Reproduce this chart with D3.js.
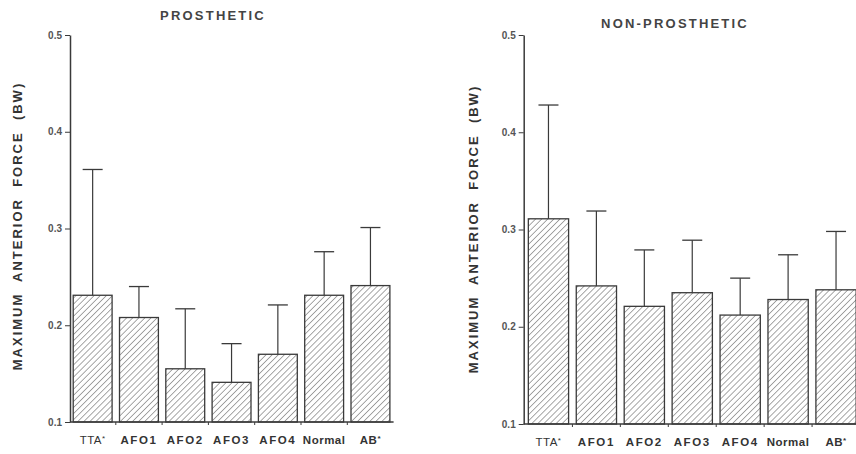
<!DOCTYPE html>
<html>
<head>
<meta charset="utf-8">
<script src="https://cdn.jsdelivr.net/npm/d3@7"></script>
<style>
  body { margin: 0; background: #fff; }
  svg { display: block; font-family: 'Liberation Sans', Arial, sans-serif; }
</style>
</head>
<body>
<svg id="chart" width="856" height="454"></svg>
<script>
var categories = ['TTA', 'AFO1', 'AFO2', 'AFO3', 'AFO4', 'Normal', 'AB']
var starred = [true, false, false, false, false, false, true]
var prostheticMean = [0.231, 0.208, 0.155, 0.141, 0.170, 0.231, 0.241]
var prostheticSD = [0.130, 0.032, 0.062, 0.040, 0.051, 0.045, 0.060]
var nonProstheticMean = [0.311, 0.242, 0.221, 0.235, 0.212, 0.228, 0.238]
var nonProstheticSD = [0.117, 0.077, 0.058, 0.054, 0.038, 0.046, 0.060]
var yTicks = [0.1, 0.2, 0.3, 0.4, 0.5]
var yLabel = 'MAXIMUM  ANTERIOR  FORCE  (BW)'

var svg = d3.select('#chart')
var ink = '#3a3a3a'

var defs = svg.append('defs')
defs.append('pattern')
    .attr('id', 'hatch')
    .attr('patternUnits', 'userSpaceOnUse')
    .attr('width', 4.3)
    .attr('height', 4.3)
    .attr('patternTransform', 'rotate(45)')
  .append('line')
    .attr('x1', 0).attr('y1', 0)
    .attr('x2', 0).attr('y2', 4.3)
    .attr('stroke', '#505050')
    .attr('stroke-width', 1)

function drawPanel (opts) {
  var data = categories.map(function (c, i) {
    return { name: c, star: starred[i], mean: opts.mean[i], sd: opts.sd[i] }
  })

  var x = d3.scaleBand()
      .domain(categories)
      .range(opts.xRange)
      .paddingInner(0.16)
      .paddingOuter(0.08)

  var y = d3.scaleLinear()
      .domain([0.1, 0.5])
      .range(opts.yRange)

  var g = svg.append('g')

  // error bars (behind bars)
  var err = g.append('g').attr('class', 'errors')
    .selectAll('g')
    .data(data)
    .enter().append('g')
  err.append('line')
      .attr('x1', function (d) { return x(d.name) + x.bandwidth() / 2 })
      .attr('x2', function (d) { return x(d.name) + x.bandwidth() / 2 })
      .attr('y1', function (d) { return y(d.mean) })
      .attr('y2', function (d) { return y(d.mean + d.sd) })
      .attr('stroke', ink)
      .attr('stroke-width', 1.2)
  err.append('line')
      .attr('x1', function (d) { return x(d.name) + x.bandwidth() / 2 - 10 })
      .attr('x2', function (d) { return x(d.name) + x.bandwidth() / 2 + 10 })
      .attr('y1', function (d) { return y(d.mean + d.sd) })
      .attr('y2', function (d) { return y(d.mean + d.sd) })
      .attr('stroke', ink)
      .attr('stroke-width', 1.3)

  g.append('g').attr('class', 'bars')
    .selectAll('rect')
    .data(data)
    .enter().append('rect')
      .attr('x', function (d) { return x(d.name) })
      .attr('width', x.bandwidth())
      .attr('y', function (d) { return y(d.mean) })
      .attr('height', function (d) { return y(0.1) - y(d.mean) })
      .attr('fill', 'url(#hatch)')
      .attr('stroke', ink)
      .attr('stroke-width', 1.3)

  // y axis
  var yAxis = g.append('g')
      .attr('transform', 'translate(' + opts.axisX + ',0)')
      .call(d3.axisLeft(y).tickValues(yTicks).tickFormat(d3.format('.1f')).tickSize(5).tickSizeOuter(0))
  yAxis.select('.domain').attr('stroke', ink).attr('stroke-width', 1.5)
  yAxis.selectAll('.tick line').attr('stroke', ink).attr('stroke-width', 1)
  yAxis.selectAll('.tick text')
      .attr('x', -8)
      .attr('fill', '#555')
      .style('font-size', '10px')
      .style('font-weight', 'bold')

  // x axis
  var base = y(0.1)
  g.append('line')
      .attr('x1', opts.axisX)
      .attr('x2', opts.xRange[1])
      .attr('y1', base)
      .attr('y2', base)
      .attr('stroke', ink)
      .attr('stroke-width', 1.5)
  var edges = categories.slice(1).map(function (c) { return x(c) - x.step() * x.paddingInner() / 2 })
  g.append('g').selectAll('line')
    .data(edges)
    .enter().append('line')
      .attr('x1', function (d) { return d })
      .attr('x2', function (d) { return d })
      .attr('y1', base)
      .attr('y2', base + 3)
      .attr('stroke', ink)
      .attr('stroke-width', 1)

  var labels = g.append('g').selectAll('text')
    .data(data)
    .enter().append('text')
      .attr('x', function (d) { return x(d.name) + x.bandwidth() / 2 })
      .attr('y', base + 22)
      .attr('text-anchor', 'middle')
      .attr('fill', '#333')
      .style('font-size', '11.5px')
      .style('font-weight', function (d) { return d.name === 'TTA' ? 'normal' : 'bold' })
      .style('letter-spacing', function (d) { return /AFO/.test(d.name) ? '1.6px' : '0.5px' })
  labels.append('tspan').text(function (d) { return d.name })
  labels.filter(function (d) { return d.star }).append('tspan')
      .attr('dy', -3)
      .style('font-size', '8px')
      .text('*')

  // title
  g.append('text')
      .attr('x', opts.titleX)
      .attr('y', opts.titleY)
      .attr('text-anchor', 'middle')
      .attr('fill', '#444')
      .style('font-size', '13px')
      .style('font-weight', 'bold')
      .style('letter-spacing', '2.2px')
      .text(opts.title)

  // y label
  g.append('text')
      .attr('transform', 'translate(' + opts.labelX + ',' + opts.labelY + ') rotate(-90)')
      .attr('text-anchor', 'middle')
      .attr('fill', '#333')
      .style('font-size', '13px')
      .style('font-weight', 'bold')
      .style('letter-spacing', '2px')
      .style('white-space', 'pre')
      .text(yLabel)
}

drawPanel({
  title: 'PROSTHETIC', titleX: 213, titleY: 20,
  mean: prostheticMean, sd: prostheticSD,
  xRange: [69.5, 393.6], yRange: [422, 35], axisX: 70,
  labelX: 22, labelY: 226
})

drawPanel({
  title: 'NON-PROSTHETIC', titleX: 675, titleY: 28,
  mean: nonProstheticMean, sd: nonProstheticSD,
  xRange: [524.5, 860], yRange: [424, 35], axisX: 523.7,
  labelX: 478, labelY: 229
})
</script>
</body>
</html>
